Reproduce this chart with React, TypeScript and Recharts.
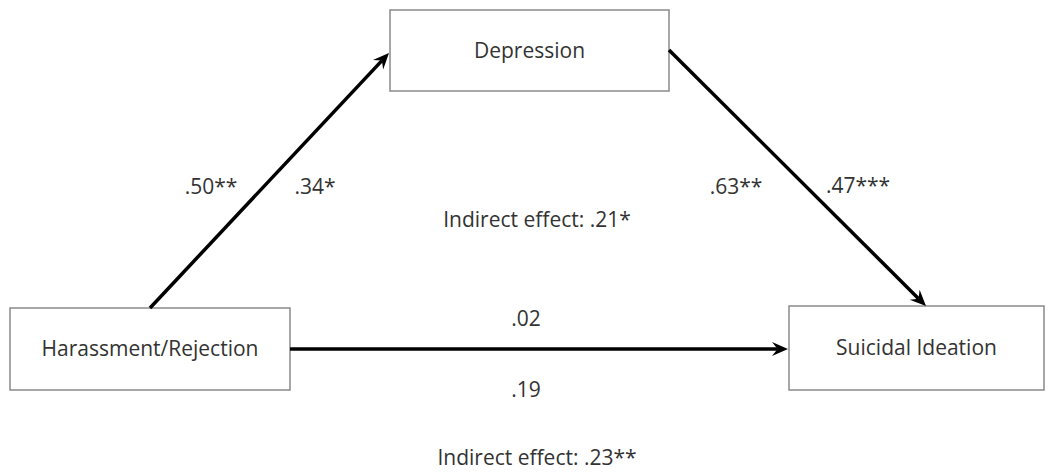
import { ComposedChart, XAxis, YAxis, ReferenceArea, ReferenceLine, Scatter } from "recharts"

// diagram units: x 0..1054, y 0..476 (top to bottom)
const nodes = [
  { name: "Depression", x1: 390, x2: 669, y1: 10, y2: 91 },
  { name: "Harassment/Rejection", x1: 10, x2: 290, y1: 308, y2: 390 },
  { name: "Suicidal Ideation", x1: 789, x2: 1044, y1: 306, y2: 390 },
]

const paths = [
  { id: "a", from: { x: 150, y: 308 }, to: { x: 389, y: 53 } },
  { id: "b", from: { x: 669, y: 50 }, to: { x: 926, y: 306 } },
  { id: "c", from: { x: 290, y: 349 }, to: { x: 788, y: 349 } },
]

const coefficients = [
  { x: 211, y: 186, text: ".50**" },
  { x: 315, y: 186, text: ".34*" },
  { x: 736, y: 186, text: ".63**" },
  { x: 858, y: 185, text: ".47***" },
  { x: 537, y: 219, text: "Indirect effect: .21*" },
  { x: 526, y: 318, text: ".02" },
  { x: 526, y: 389, text: ".19" },
  { x: 537, y: 457, text: "Indirect effect: .23**" },
]

const font = "'Open Sans', Lato, sans-serif"
const fontSize = 21

function Arrow(props: any) {
  const { x1, y1, x2, y2 } = props
  const ang = Math.atan2(y2 - y1, x2 - x1)
  const len = 16
  const half = 7
  const bx = x2 - len * Math.cos(ang)
  const by = y2 - len * Math.sin(ang)
  const nx = -Math.sin(ang)
  const ny = Math.cos(ang)
  const nxIn = x2 - len * 0.65 * Math.cos(ang)
  const nyIn = y2 - len * 0.65 * Math.sin(ang)
  const pts = [
    [x2, y2],
    [bx + nx * half, by + ny * half],
    [nxIn, nyIn],
    [bx - nx * half, by - ny * half],
  ]
  return (
    <g>
      <line x1={x1} y1={y1} x2={nxIn} y2={nyIn} stroke="#000" strokeWidth={3.5} />
      <polygon points={pts.map((p) => p.join(",")).join(" ")} fill="#000" />
    </g>
  )
}

function TextMark(props: any) {
  const { cx, cy, payload } = props
  return (
    <text x={cx} y={cy} textAnchor="middle" dominantBaseline="central" fontFamily={font} fontSize={fontSize} fill="#333">
      {payload.text}
    </text>
  )
}

export default function App() {
  return (
    <div style={{ position: "absolute", left: 0, top: 0, background: "#fff" }}>
      <ComposedChart width={1054} height={476} margin={{ top: 0, right: 0, bottom: 0, left: 0 }}>
        <XAxis type="number" dataKey="x" domain={[0, 1054]} hide />
        <YAxis type="number" dataKey="y" domain={[0, 476]} reversed hide width={0} />
        {nodes.map((n) => (
          <ReferenceArea
            key={n.name}
            x1={n.x1}
            x2={n.x2}
            y1={n.y1}
            y2={n.y2}
            fill="#fff"
            fillOpacity={1}
            stroke="#8a8a8a"
            strokeWidth={1.5}
            ifOverflow="visible"
            label={{ value: n.name, position: "center", fontFamily: font, fontSize, fill: "#333" }}
          />
        ))}
        {paths.map((p) => (
          <ReferenceLine key={p.id} segment={[p.from, p.to]} ifOverflow="visible" shape={Arrow} />
        ))}
        <Scatter data={coefficients} dataKey="y" shape={TextMark} isAnimationActive={false} />
      </ComposedChart>
    </div>
  )
}
